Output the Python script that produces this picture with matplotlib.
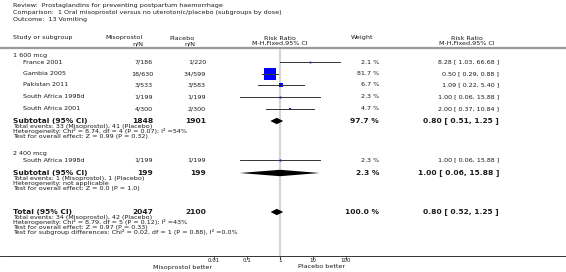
import matplotlib
matplotlib.use("Agg")
import matplotlib.pyplot as plt
import numpy as np

# ---- data ----
title_lines = ["Review:  Prostaglandins for preventing postpartum haemorrhage",
               "Comparison:  1 Oral misoprostol versus no uterotonic/placebo (subgroups by dose)",
               "Outcome:  13 Vomiting"]

studies_600 = ["France 2001", "Gambia 2005", "Pakistan 2011", "South Africa 1998d", "South Africa 2001"]
miso_600 = ["7/186", "18/630", "3/533", "1/199", "4/300"]
plac_600 = ["1/220", "34/599", "3/583", "1/199", "2/300"]
weight_600 = [2.1, 81.7, 6.7, 2.3, 4.7]
rr_600 = [8.28, 0.50, 1.09, 1.00, 2.00]
lo_600 = [1.03, 0.29, 0.22, 0.06, 0.37]
hi_600 = [66.68, 0.88, 5.40, 15.88, 10.84]

studies_2400 = ["South Africa 1998d"]
miso_2400 = ["1/199"]
plac_2400 = ["1/199"]
weight_2400 = [2.3]
rr_2400 = [1.00]
lo_2400 = [0.06]
hi_2400 = [15.88]

# subtotal / total: (label, N miso, N placebo, weight, rr, lo, hi)
sub_600 = ("Subtotal (95% CI)", "1848", "1901", 97.7, 0.80, 0.51, 1.25)
sub_2400 = ("Subtotal (95% CI)", "199", "199", 2.3, 1.00, 0.06, 15.88)
total = ("Total (95% CI)", "2047", "2100", 100.0, 0.80, 0.52, 1.25)

notes_600 = ["Total events: 33 (Misoprostol), 41 (Placebo)",
             "Heterogeneity: Chi\u00b2 = 8.74, df = 4 (P = 0.07); I\u00b2 =54%",
             "Test for overall effect: Z = 0.99 (P = 0.32)"]
notes_2400 = ["Total events: 1 (Misoprostol), 1 (Placebo)",
              "Heterogeneity: not applicable",
              "Test for overall effect: Z = 0.0 (P = 1.0)"]
notes_total = ["Total events: 34 (Misoprostol), 42 (Placebo)",
               "Heterogeneity: Chi\u00b2 = 8.79, df = 5 (P = 0.12); I\u00b2 =43%",
               "Test for overall effect: Z = 0.97 (P = 0.33)",
               "Test for subgroup differences: Chi\u00b2 = 0.02, df = 1 (P = 0.88), I\u00b2 =0.0%"]

tick_vals = [0.01, 0.1, 1, 10, 100]
tick_labels = ["0.01", "0.1", "1", "10", "100"]

# ---- layout ----
W, H = 566, 272
fig = plt.figure(figsize=(W / 100, H / 100), dpi=100)
txt = fig.add_axes([0, 0, 1, 1])
txt.set_xlim(0, W)
txt.set_ylim(H, 0)
txt.axis("off")

fx0, fx1, null_x, per_dec = 200, 360, 280, 33.0
fa = fig.add_axes([fx0 / W, 0, (fx1 - fx0) / W, 1])
fa.set_xscale("log")
fa.set_xlim(10 ** ((fx0 - null_x) / per_dec), 10 ** ((fx1 - null_x) / per_dec))
fa.set_ylim(H, 0)
fa.axis("off")

FS = 4.6      # rows
FS_N = 4.55   # notes
FS_B = 5.4    # bold rows
C = "#1a1a1a"

X_NAME, X_STUDY, X_MISO, X_PLAC, X_W, X_RR = 13, 23, 153, 206, 379, 499


def t(x, y, s, size=FS, ha="left", weight="normal"):
    txt.text(x, y, s, fontsize=size, ha=ha, va="center", color=C, fontweight=weight)


for i, line in enumerate(title_lines):
    t(13, 5.5 + i * 7, line)

# header
t(13, 38, "Study or subgroup")
t(143, 38, "Misoprostol", ha="right")
t(143, 43.5, "n/N", ha="right")
t(195, 38, "Placebo", ha="right")
t(195, 43.5, "n/N", ha="right")
t(null_x, 38, "Risk Ratio", ha="center")
t(null_x, 43.5, "M-H,Fixed,95% CI", ha="center")
t(351, 38, "Weight")
t(467, 38, "Risk Ratio", ha="center")
t(467, 43.5, "M-H,Fixed,95% CI", ha="center")
txt.plot([0, W], [48, 48], color="#9a9a9a", lw=1.6, solid_capstyle="butt")

# null line
fa.plot([1, 1], [49, 256], color="#d4d4d4", lw=1.6, zorder=0, solid_capstyle="butt")


def study_rows(ys, names, miso, plac, w, rr, lo, hi):
    for y, n, m, p, wi, r, l, h in zip(ys, names, miso, plac, w, rr, lo, hi):
        t(X_STUDY, y, n)
        t(X_MISO, y, m, ha="right")
        t(X_PLAC, y, p, ha="right")
        t(X_W, y, f"{wi:.1f} %", ha="right")
        t(X_RR, y, f"{r:.2f} [ {l:.2f}, {h:.2f} ]", ha="right")
        side = 12.2 * np.sqrt(wi / 100.0) * 0.72
        fa.plot([r], [y], marker="s", ms=side, mfc="#0000ff", mec="#0000ff", mew=0, zorder=2)
        fa.plot([l, h], [y, y], color="#333333", lw=0.7, zorder=3)


def summary_row(y, row):
    label, nm, npl, wi, r, l, h = row
    t(X_NAME, y, label, size=FS_B, weight="bold")
    t(X_MISO, y, nm, size=FS_B, ha="right", weight="bold")
    t(X_PLAC, y, npl, size=FS_B, ha="right", weight="bold")
    t(X_W, y, f"{wi:.1f} %", size=FS_B, ha="right", weight="bold")
    t(X_RR, y, f"{r:.2f} [ {l:.2f}, {h:.2f} ]", size=FS_B, ha="right", weight="bold")
    fa.fill([l, r, h, r], [y, y - 3.2, y, y + 3.2], color="black", lw=0, zorder=3)


def notes(y0, lines):
    for i, s in enumerate(lines):
        t(X_NAME, y0 + i * 4.9, s, size=FS_N)


t(X_NAME, 55, "1 600 mcg")
study_rows([62, 73.5, 85, 97, 109], studies_600, miso_600, plac_600,
           weight_600, rr_600, lo_600, hi_600)
summary_row(121, sub_600)
notes(126.3, notes_600)

t(X_NAME, 154, "2 400 mcg")
study_rows([160], studies_2400, miso_2400, plac_2400,
           weight_2400, rr_2400, lo_2400, hi_2400)
summary_row(173, sub_2400)
notes(178.3, notes_2400)

summary_row(212, total)
notes(217.3, notes_total)

# bottom axis
txt.plot([0, W], [256, 256], color="#333333", lw=0.7)
for v, s in zip(tick_vals, tick_labels):
    fa.plot([v, v], [256, 258.5], color="#333333", lw=0.6)
    fa.text(v, 260, s, fontsize=4.0, ha="center", va="center", color=C)
t(183, 267, "Misoprostol better", ha="center")
t(322, 267, "Placebo better", ha="center")

fig.savefig("out.png", dpi=100)
